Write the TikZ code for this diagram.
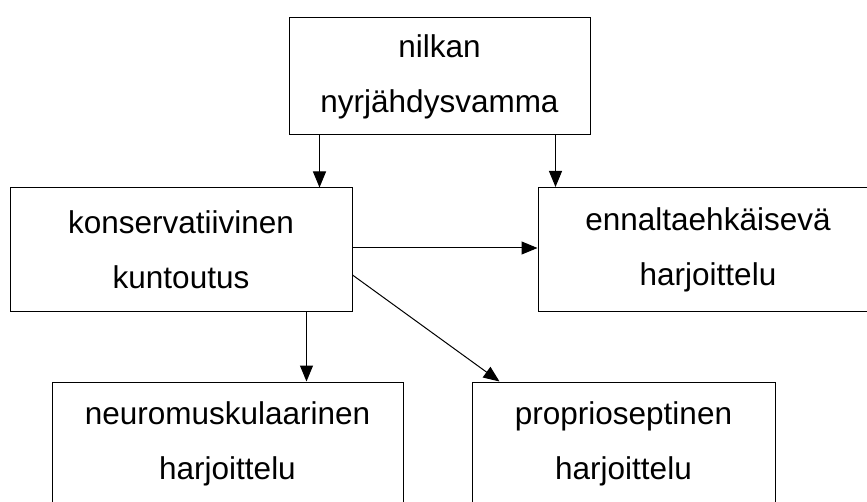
\documentclass[tikz,border=0pt]{standalone}
\usepackage{fontspec}
\setmainfont{Liberation Sans}
\usetikzlibrary{calc, arrows.meta}

\begin{document}
\begin{tikzpicture}[x=1pt, y=-1pt, >={Triangle[length=16pt, width=13pt]},
    box/.style={draw, line width=1pt, inner sep=0pt, minimum height=124pt, align=center, font=\fontsize{31.5}{55}\selectfont},
    arr/.style={->, line width=1pt}]
    \useasboundingbox (0,0) rectangle (867,502);
    \clip (0,0) rectangle (867,502);
    % injury
    \node[box, minimum width=301pt, minimum height=117pt] (vamma) at (439.5,76.5) {nilkan\\ nyrjähdysvamma};
    % second row
    \node[box, minimum width=342pt] (kuntoutus) at (181,250) {konservatiivinen\\ kuntoutus};
    \node[box, minimum width=340pt] (ennalta) at (708,249.5) {ennaltaehkäisevä\\ harjoittelu};
    % bottom row
    \node[box, minimum width=351pt] (neuro) at (227.5,444) {neuromuskulaarinen\\ harjoittelu};
    \node[box, minimum width=303pt] (proprio) at (623.5,444) {proprioseptinen\\ harjoittelu};
    % arrows
    \draw[arr] ([xshift=31pt]vamma.south west) -- ([xshift=31pt]vamma.south west |- kuntoutus.north);
    \draw[arr] ([xshift=-35pt]vamma.south east) -- ([xshift=-35pt]vamma.south east |- ennalta.north);
    \draw[arr] ([yshift=2pt]kuntoutus.east) -- ([yshift=2pt]kuntoutus.east -| ennalta.west);
    \draw[arr] ([xshift=-46pt]kuntoutus.south east) -- ([xshift=-46pt]kuntoutus.south east |- neuro.north);
    \draw[arr] ([yshift=-25pt]kuntoutus.east) -- ([xshift=28pt]proprio.north west);
\end{tikzpicture}
\end{document}
